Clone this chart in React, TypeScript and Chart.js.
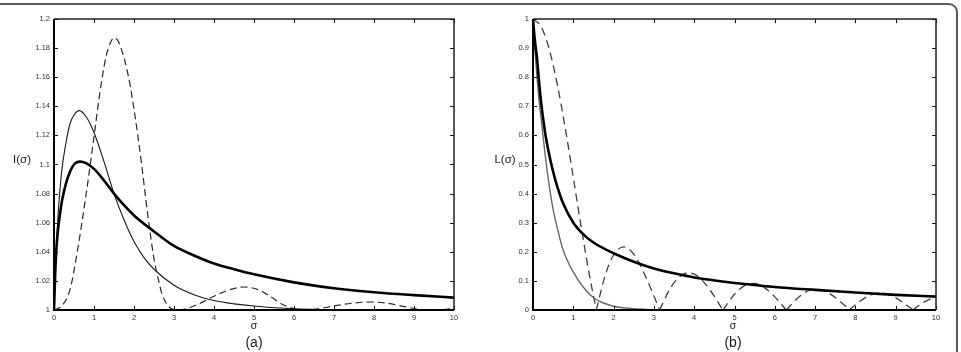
import React, { useEffect, useRef } from "react";
import { Chart, registerables } from "chart.js";

Chart.register(...registerables);

// ---------- tick values / labels ----------
const X_TICKS = [0, 1, 2, 3, 4, 5, 6, 7, 8, 9, 10];
const X_TICK_LABELS = ["0", "1", "2", "3", "4", "5", "6", "7", "8", "9", "10"];
const Y_TICKS_A = [1, 1.02, 1.04, 1.06, 1.08, 1.1, 1.12, 1.14, 1.16, 1.18, 1.2];
const Y_TICK_LABELS_A = ["1", "1.02", "1.04", "1.06", "1.08", "1.1", "1.12", "1.14", "1.16", "1.18", "1.2"];
const Y_TICKS_B = [0, 0.1, 0.2, 0.3, 0.4, 0.5, 0.6, 0.7, 0.8, 0.9, 1];
const Y_TICK_LABELS_B = ["0", "0.1", "0.2", "0.3", "0.4", "0.5", "0.6", "0.7", "0.8", "0.9", "1"];

// ---------- panel (a): I(sigma) ----------
const A_THICK_X = [0, 0.03, 0.06, 0.1, 0.15, 0.2, 0.3, 0.4, 0.5, 0.65, 0.8, 1, 1.25, 1.5, 1.75, 2, 2.5, 3, 3.5, 4, 4.5, 5, 6, 7, 8, 9, 10];
const A_THICK_Y = [1, 1.025, 1.042, 1.055, 1.066, 1.075, 1.087, 1.095, 1.1, 1.102, 1.101, 1.097, 1.089, 1.08, 1.072, 1.065, 1.054, 1.044, 1.0375, 1.032, 1.028, 1.0245, 1.019, 1.015, 1.0122, 1.0102, 1.0085];

const A_THIN_X = [0, 0.03, 0.06, 0.1, 0.15, 0.2, 0.3, 0.4, 0.5, 0.63, 0.8, 1, 1.25, 1.5, 1.75, 2, 2.25, 2.5, 3, 3.5, 4, 4.5, 5, 6, 7, 8, 10];
const A_THIN_Y = [1, 1.025, 1.045, 1.065, 1.083, 1.097, 1.115, 1.128, 1.134, 1.137, 1.133, 1.122, 1.102, 1.08, 1.062, 1.047, 1.036, 1.028, 1.017, 1.0105, 1.0065, 1.0042, 1.0027, 1.0008, 1.0002, 1.0001, 1];

const A_DASH_X = [0, 0.2, 0.4, 0.6, 0.8, 1.0, 1.1, 1.2, 1.3, 1.4, 1.5, 1.6, 1.7, 1.8, 1.9, 2.0, 2.1, 2.2, 2.3, 2.4, 2.5, 2.6, 2.7, 2.8, 2.9, 3.1, 3.3, 3.6, 4.0, 4.4, 4.75, 5.1, 5.4, 5.7, 6.0, 6.3, 6.6, 7.0, 7.5, 7.9, 8.3, 8.7, 9.1, 9.4, 9.7, 10];
const A_DASH_Y = [1, 1.003, 1.014, 1.043, 1.079, 1.119, 1.14, 1.159, 1.174, 1.183, 1.187, 1.185, 1.178, 1.168, 1.155, 1.138, 1.119, 1.098, 1.075, 1.054, 1.035, 1.022, 1.011, 1.005, 1.0015, 1.0, 1.0008, 1.004, 1.0095, 1.014, 1.0158, 1.014, 1.0095, 1.004, 1.001, 1.0, 1.0008, 1.0028, 1.0048, 1.0055, 1.0048, 1.0027, 1.0006, 1.0, 1.0003, 1.0012];

// ---------- panel (b): L(sigma) ----------
const B_THICK_X = [0, 0.03, 0.06, 0.1, 0.15, 0.2, 0.3, 0.4, 0.5, 0.6, 0.75, 1, 1.25, 1.5, 2, 2.5, 3, 3.5, 4, 5, 5.5, 6, 7, 8, 9, 10];
const B_THICK_Y = [1, 0.95, 0.91, 0.865, 0.785, 0.715, 0.61, 0.535, 0.475, 0.425, 0.366, 0.3, 0.26, 0.232, 0.195, 0.166, 0.143, 0.126, 0.112, 0.093, 0.086, 0.079, 0.069, 0.06, 0.052, 0.046];

const B_THIN_X = [0, 0.03, 0.06, 0.1, 0.15, 0.2, 0.3, 0.4, 0.5, 0.6, 0.75, 1, 1.25, 1.5, 1.75, 2, 2.5, 3, 3.5, 4, 10];
const B_THIN_Y = [1, 0.93, 0.87, 0.8, 0.72, 0.66, 0.535, 0.43, 0.345, 0.283, 0.205, 0.13, 0.078, 0.042, 0.024, 0.013, 0.0045, 0.0012, 0.0003, 0, 0];

const B_DASH_X = [0, 0.2, 0.4, 0.6, 0.8, 1.0, 1.2, 1.4, 1.571, 1.8, 2.0, 2.25, 2.5, 2.8, 3.142, 3.4, 3.6, 3.86, 4.1, 4.4, 4.712, 5.0, 5.25, 5.5, 5.75, 6.0, 6.283, 6.6, 6.85, 7.07, 7.3, 7.6, 7.854, 8.1, 8.4, 8.64, 8.9, 9.2, 9.425, 9.7, 10];
const B_DASH_Y = [1, 0.974, 0.897, 0.777, 0.625, 0.455, 0.282, 0.12, 0, 0.123, 0.189, 0.217, 0.192, 0.113, 0, 0.073, 0.11, 0.128, 0.115, 0.067, 0, 0.054, 0.084, 0.091, 0.076, 0.045, 0, 0.045, 0.067, 0.071, 0.061, 0.032, 0, 0.029, 0.053, 0.058, 0.049, 0.024, 0, 0.027, 0.046];

const FONT = "'Liberation Sans', Arial, Helvetica, sans-serif";

function pts(xs: number[], ys: number[]) {
  return xs.map((x, i) => ({ x, y: ys[i] }));
}

// split a series into lobes at interior zero points (so cusps stay sharp)
function lobes(xs: number[], ys: number[]) {
  const out: { x: number; y: number }[][] = [];
  let cur: { x: number; y: number }[] = [];
  xs.forEach((x, i) => {
    cur.push({ x, y: ys[i] });
    if (ys[i] === 0 && i > 0 && i < xs.length - 1) {
      out.push(cur);
      cur = [{ x, y: ys[i] }];
    }
  });
  if (cur.length > 1) out.push(cur);
  return out;
}

const frameTicks = {
  id: "frameTicks",
  afterDatasetsDraw(chart: any) {
    const { ctx, chartArea, scales } = chart;
    const { left, right, top, bottom } = chartArea;
    const x = scales.x;
    const y = scales.y;
    ctx.save();
    ctx.strokeStyle = "#111";
    ctx.lineWidth = 1;
    const tl = 4;
    ctx.beginPath();
    x.ticks.forEach((t: any) => {
      const px = Math.round(x.getPixelForValue(t.value)) + 0.5;
      ctx.moveTo(px, bottom);
      ctx.lineTo(px, bottom - tl);
      ctx.moveTo(px, top);
      ctx.lineTo(px, top + tl);
    });
    y.ticks.forEach((t: any) => {
      const py = Math.round(y.getPixelForValue(t.value)) + 0.5;
      ctx.moveTo(left, py);
      ctx.lineTo(left + tl, py);
      ctx.moveTo(right, py);
      ctx.lineTo(right - tl, py);
    });
    ctx.stroke();
    // box
    ctx.lineWidth = 1.5;
    ctx.strokeStyle = "#222";
    ctx.beginPath();
    ctx.moveTo(left, top);
    ctx.lineTo(right, top);
    ctx.lineTo(right, bottom);
    ctx.stroke();
    ctx.lineWidth = 2;
    ctx.strokeStyle = "#000";
    ctx.beginPath();
    ctx.moveTo(left, top);
    ctx.lineTo(left, bottom);
    ctx.lineTo(right, bottom);
    ctx.stroke();
    ctx.restore();
  },
};

function makeConfig(
  datasets: any[],
  yMin: number,
  yMax: number,
  yTicks: number[],
  yLabels: string[],
  yWidth: number,
  padRight: number
): any {
  return {
    type: "line",
    data: { datasets },
    plugins: [frameTicks],
    options: {
      animation: false,
      responsive: false,
      maintainAspectRatio: false,
      parsing: false,
      layout: { padding: { left: 0, top: 19, right: padRight, bottom: 0 } },
      plugins: { legend: { display: false }, tooltip: { enabled: false } },
      elements: { point: { radius: 0 } },
      scales: {
        x: {
          type: "linear",
          min: 0,
          max: 10,
          grid: { display: false, drawTicks: false },
          border: { display: false },
          afterBuildTicks: (s: any) => {
            s.ticks = X_TICKS.map((v) => ({ value: v }));
          },
          afterFit: (s: any) => {
            s.height = 42;
          },
          ticks: {
            autoSkip: false,
            maxRotation: 0,
            padding: 3,
            color: "#333",
            font: { family: FONT, size: 7.5 },
            callback: (v: number) => {
              const i = X_TICKS.findIndex((t) => Math.abs(t - v) < 1e-9);
              return i >= 0 ? X_TICK_LABELS[i] : "";
            },
          },
        },
        y: {
          type: "linear",
          min: yMin,
          max: yMax,
          grid: { display: false, drawTicks: false },
          border: { display: false },
          afterBuildTicks: (s: any) => {
            s.ticks = yTicks.map((v) => ({ value: v }));
          },
          afterFit: (s: any) => {
            s.width = yWidth;
          },
          ticks: {
            autoSkip: false,
            padding: 4,
            color: "#333",
            font: { family: FONT, size: 7.5 },
            callback: (v: number) => {
              const i = yTicks.findIndex((t) => Math.abs(t - v) < 1e-9);
              return i >= 0 ? yLabels[i] : "";
            },
          },
        },
      },
    },
  };
}

function PanelChart({ config, width, height }: { config: any; width: number; height: number }) {
  const ref = useRef<HTMLCanvasElement | null>(null);
  useEffect(() => {
    if (!ref.current) return;
    const chart = new Chart(ref.current, config);
    return () => chart.destroy();
  }, [config]);
  return <canvas ref={ref} width={width} height={height} style={{ width, height, display: "block" }} />;
}

const lineBase = { pointRadius: 0, cubicInterpolationMode: "monotone", fill: false };

const configA = makeConfig(
  [
    { ...lineBase, data: pts(A_THICK_X, A_THICK_Y), borderColor: "#000", borderWidth: 2.6 },
    { ...lineBase, data: pts(A_THIN_X, A_THIN_Y), borderColor: "#1a1a1a", borderWidth: 1.1 },
    { ...lineBase, data: pts(A_DASH_X, A_DASH_Y), borderColor: "#2a2a2a", borderWidth: 1.2, borderDash: [7, 4] },
  ],
  1,
  1.2,
  Y_TICKS_A,
  Y_TICK_LABELS_A,
  54,
  26
);

const configB = makeConfig(
  [
    { ...lineBase, data: pts(B_THICK_X, B_THICK_Y), borderColor: "#000", borderWidth: 2.6 },
    { ...lineBase, data: pts(B_THIN_X, B_THIN_Y), borderColor: "#6a6a6a", borderWidth: 1.4 },
    ...lobes(B_DASH_X, B_DASH_Y).map((seg) => ({
      ...lineBase,
      data: seg,
      borderColor: "#404040",
      borderWidth: 1.3,
      borderDash: [8, 5],
    })),
  ],
  0,
  1,
  Y_TICKS_B,
  Y_TICK_LABELS_B,
  53,
  25
);

const textStyle = (x: number, y: number, size: number): React.CSSProperties => ({
  position: "absolute",
  left: x,
  top: y,
  transform: "translate(-50%, -50%)",
  fontFamily: FONT,
  fontSize: size,
  color: "#1a1a1a",
  whiteSpace: "nowrap",
  lineHeight: 1,
});

export default function App() {
  return (
    <div
      style={{
        position: "fixed",
        left: 0,
        top: 0,
        width: 961,
        height: 352,
        background: "#fff",
        overflow: "hidden",
      }}
    >
      <div
        style={{
          position: "absolute",
          left: -12,
          top: 3,
          width: 970,
          height: 420,
          border: "2px solid #5a5a5a",
          borderRadius: 9,
          boxSizing: "border-box",
        }}
      />
      <div style={{ position: "absolute", left: 0, top: 0 }}>
        <PanelChart config={configA} width={480} height={352} />
      </div>
      <div style={{ position: "absolute", left: 480, top: 0 }}>
        <PanelChart config={configB} width={481} height={352} />
      </div>
      <div style={textStyle(22, 160, 11.5)}>I(σ)</div>
      <div style={textStyle(505, 160, 11.5)}>L(σ)</div>
      <div style={textStyle(254, 325, 10.5)}>σ</div>
      <div style={textStyle(733, 325, 10.5)}>σ</div>
      <div style={textStyle(254, 342, 14)}>(a)</div>
      <div style={textStyle(733, 342, 14)}>(b)</div>
    </div>
  );
}
